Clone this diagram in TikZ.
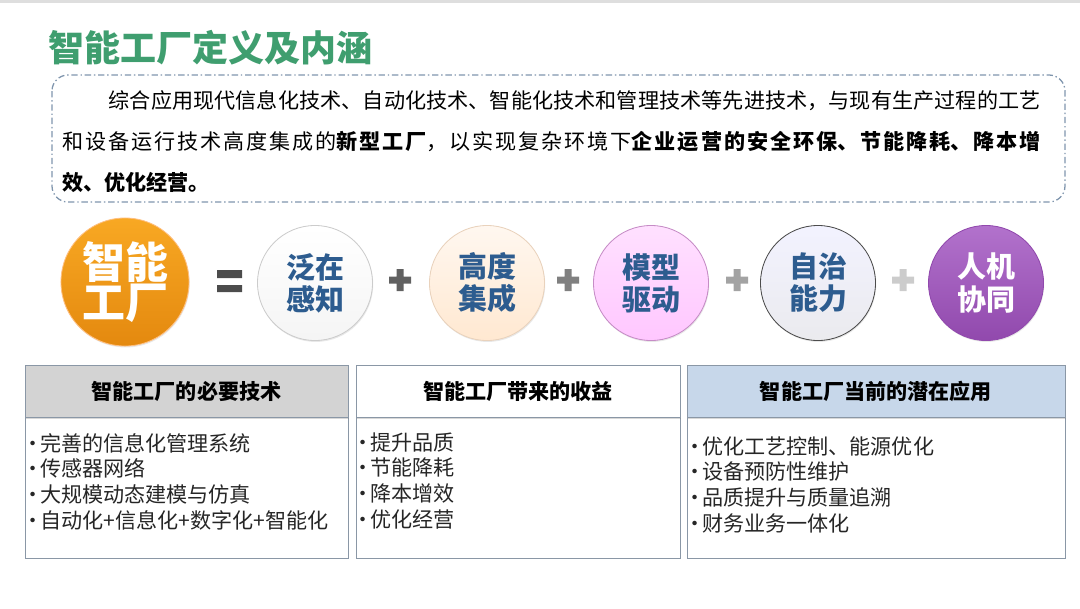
\documentclass[tikz,border=0pt]{standalone}
\usepackage{fontspec}
\setmainfont{Noto Sans CJK SC}
\usetikzlibrary{shadows}
\XeTeXlinebreaklocale "zh"
\XeTeXlinebreakskip=0pt plus 2pt
\definecolor{titlegreen}{HTML}{3F9E6F}
\definecolor{frameblue}{HTML}{7F95AD}
\definecolor{ringblue}{HTML}{2D5C8F}
\definecolor{boxline}{HTML}{8A97A6}
\definecolor{headgray}{HTML}{D3D3D3}
\definecolor{headblue}{HTML}{C7D7EA}
\definecolor{orangetop}{HTML}{F8A823}
\definecolor{orangebot}{HTML}{E4890F}
\definecolor{purpletop}{HTML}{B272CC}
\definecolor{purplebot}{HTML}{9149AD}
\newcommand{\bul}{\makebox[0.7em]{•}}
\begin{document}
\begin{tikzpicture}[x=0.025cm,y=-0.025cm,
  ring/.style={circle,draw,line width=0.6pt,minimum size=2.875cm,inner sep=0pt,align=center,text=ringblue,font=\fontsize{20.6}{22.8}\selectfont\bfseries,drop shadow={opacity=0.18,shadow xshift=0.5pt,shadow yshift=-1pt}},
  head/.style={draw=boxline,minimum height=1.3cm,inner sep=0pt,font=\fontsize{15}{18}\selectfont\bfseries,drop shadow={opacity=0.3,shadow xshift=1pt,shadow yshift=-1.2pt}},
  item/.style={anchor=base west,inner sep=0pt,font=\fontsize{15}{18}\selectfont,text=black!85}]
\useasboundingbox (0,0) rectangle (1080,608);
\fill[black!13] (0,0) rectangle (1080,3);
\node[anchor=base west,inner sep=0pt,text=titlegreen,font=\fontsize{25.6}{30}\selectfont\bfseries] (title) at (48,61) {智能工厂定义及内涵};
\draw[frameblue,line width=0.9pt,rounded corners=0.4cm,dash pattern=on 4.5pt off 2pt on 1pt off 2pt] (52,75) rectangle (1065,202);
\node[anchor=base west,inner sep=0pt,text width=24.45cm,align=justify,font=\fontsize{15}{29.2}\selectfont] (intro) at (62,108) {\hspace*{2.2em}综合应用现代信息化技术、自动化技术、智能化技术和管理技术等先进技术，与现有生产过程的工艺\linebreak 和设备运行技术高度集成的\textbf{新型工厂}，以实现复杂环境下\textbf{企业运营的安全环保、节能降耗、降本增}\linebreak\textbf{效、优化经营。}};
\node[ring,draw=orange!50,top color=orangetop,bottom color=orangebot,text=white,minimum size=3.2cm,font=\fontsize{30.5}{28.5}\selectfont\bfseries] (smart) at (125,282) {智能\\工厂};
\fill[black!70] (217,270) rectangle (242,278) (217,285) rectangle (242,292);
\node[ring,draw=black!20,top color=white,bottom color=black!4] (sense) at (315,283) {泛在\\感知};
\node[ring,draw=brown!35,top color=orange!6,bottom color=orange!18] (integ) at (487,283) {高度\\集成};
\node[ring,draw=violet!45,top color=magenta!12,bottom color=magenta!22] (model) at (651,283) {模型\\驱动};
\node[ring,draw=black!70,top color=blue!5,bottom color=blue!18!black!8] (autonomy) at (818,283) {自治\\能力};
\node[ring,draw=purplebot,top color=purpletop,bottom color=purplebot,text=white] (collab) at (986,283) {人机\\协同};
\foreach \px/\pc in {400/62,568/50,737/36,903/20}
  \fill[black!\pc] (\px-11,276.5) rectangle (\px+11,283.5) (\px-3.5,269) rectangle (\px+3.5,291);
\foreach \xa/\xb in {25/348,356/680,687/1065}
  \draw[boxline,fill=white,drop shadow={opacity=0.25,shadow xshift=1pt,shadow yshift=-1pt}] (\xa,417) rectangle (\xb,558);
\node[head,fill=headgray,minimum width=8.075cm] (techHead) at (186.5,391) {智能工厂的必要技术};
\node[head,fill=white,minimum width=8.1cm] (gainHead) at (518,391) {智能工厂带来的收益};
\node[head,fill=headblue,minimum width=9.45cm] (appHead) at (876,391) {智能工厂当前的潜在应用};
\foreach \t [count=\i] in {完善的信息化管理系统,传感器网络,大规模动态建模与仿真,自动化+信息化+数字化+智能化}
  \node[item] (tech\i) at (25,425.2+25.8*\i) {\bul\t};
\foreach \t [count=\i] in {提升品质,节能降耗,降本增效,优化经营}
  \node[item] (gain\i) at (355,424.2+25.8*\i) {\bul\t};
\foreach \t [count=\i] in {优化工艺控制、能源优化,设备预防性维护,品质提升与质量追溯,财务业务一体化}
  \node[item] (app\i) at (687,428.2+25.8*\i) {\bul\t};
\end{tikzpicture}
\end{document}
